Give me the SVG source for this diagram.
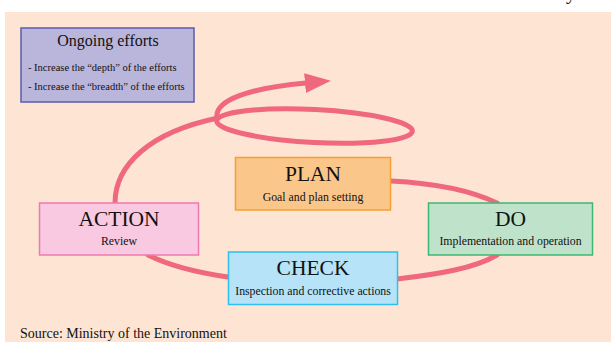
<svg xmlns="http://www.w3.org/2000/svg" width="611" height="342" viewBox="0 0 611 342">
  <style>
    .serif { font-family: "Liberation Serif", "Times New Roman", serif; fill: #111; }
    .title { font-size: 21.5px; text-anchor: middle; }
    .sub { font-size: 11.8px; text-anchor: middle; }
    .bullet { font-size: 10.5px; }
    .flow { fill: none; stroke: #F0687E; stroke-width: 5; stroke-linecap: round; }
  </style>
  <defs>
    <marker id="arrow" markerUnits="userSpaceOnUse" markerWidth="30" markerHeight="22" refX="1" refY="10" orient="auto">
      <path d="M0,0 L26,10 L0,20 Z" fill="#F0687E"/>
    </marker>
  </defs>

  <!-- page background -->
  <rect x="0" y="0" width="611" height="342" fill="#ffffff"/>
  <text class="serif" x="566" y="-1" font-size="20">y</text>
  <rect x="5" y="12" width="606" height="330" fill="#FDE4D3"/>

  <!-- cycle connectors -->
  <g id="connectors">
    <path class="flow" d="M115,203 C115,165 150,132 218,118"/>
    <ellipse class="flow" cx="314.5" cy="126" rx="98" ry="16.5" transform="rotate(3 314.5 126)"/>
    <path class="flow" d="M217,118 C214,100 250,88 306,83" marker-end="url(#arrow)"/>
    <path class="flow" d="M391,181 C430,183 470,190 497,203"/>
    <path class="flow" d="M497,255 C475,268 440,274 397,279"/>
    <path class="flow" d="M148,255 C170,266 200,273 228,277"/>
  </g>

  <g id="ongoing">
    <rect x="21" y="28" width="173" height="74" fill="#B9B5DB" stroke="#5B5BAE" stroke-width="1.5"/>
    <text class="serif" x="108" y="46" font-size="16" text-anchor="middle">Ongoing efforts</text>
    <text class="serif bullet" x="28" y="71">- Increase the “depth” of the efforts</text>
    <text class="serif bullet" x="28" y="90">- Increase the “breadth” of the efforts</text>
  </g>

  <g id="plan">
    <rect x="235.5" y="157.5" width="155" height="52.5" fill="#FBC68A" stroke="#F5A030" stroke-width="1.5"/>
    <text class="serif title" x="313" y="181">PLAN</text>
    <text class="serif sub" x="313" y="201">Goal and plan setting</text>
  </g>

  <g id="action">
    <rect x="39.5" y="203" width="159" height="52" fill="#F8C9E0" stroke="#F078B2" stroke-width="1.5"/>
    <text class="serif title" x="119" y="226">ACTION</text>
    <text class="serif sub" x="119" y="245">Review</text>
  </g>

  <g id="do">
    <rect x="428.5" y="203" width="164" height="52" fill="#BFE2CA" stroke="#3DB870" stroke-width="1.5"/>
    <text class="serif title" x="510.5" y="226">DO</text>
    <text class="serif sub" x="510.5" y="245">Implementation and operation</text>
  </g>

  <g id="check">
    <rect x="228.5" y="252" width="169" height="52.5" fill="#B6E3F8" stroke="#2EC0F0" stroke-width="1.5"/>
    <text class="serif title" x="313" y="275">CHECK</text>
    <text class="serif sub" x="313" y="294.5">Inspection and corrective actions</text>
  </g>

  <text class="serif" x="20" y="338" font-size="14">Source: Ministry of the Environment</text>
</svg>
